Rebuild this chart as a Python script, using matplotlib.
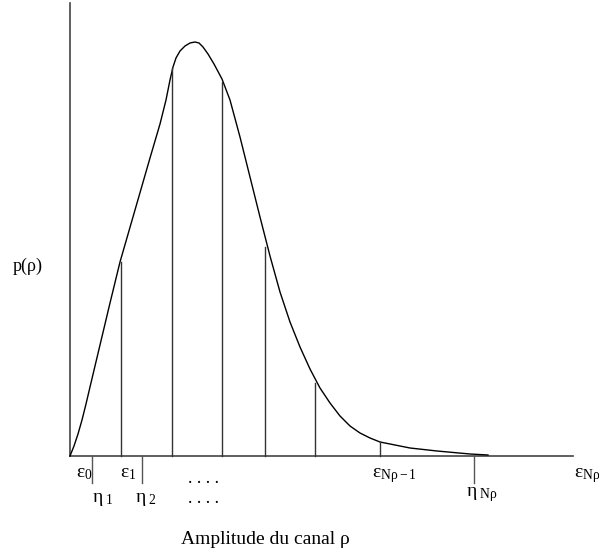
import matplotlib
matplotlib.use("Agg")
import matplotlib.pyplot as plt

plt.rcParams['font.family'] = ['Liberation Serif', 'DejaVu Serif']
plt.rcParams['mathtext.fontset'] = 'custom'
plt.rcParams['mathtext.rm'] = 'Liberation Serif'
plt.rcParams['mathtext.it'] = 'Liberation Serif'

# Schematic density curve p(rho) (amplitude, density) in arbitrary units
amp = [0, 4, 8, 12, 16, 20, 25, 30, 40, 50, 65, 80, 90, 96, 100, 103, 106, 110, 115,
       120, 125, 129, 133, 138, 144, 152, 160, 170, 180, 190, 200, 210, 220, 230, 240,
       250, 260, 270, 280, 290, 300, 310, 325, 340, 367, 400, 418]
dens = [0, 10, 22, 36, 52, 69, 90, 111, 153, 194, 246, 298, 332, 356, 376, 389, 398, 405, 410,
        413, 414, 413, 409, 402, 392, 377, 356, 319, 279, 239, 200, 164, 134, 109, 87,
        68, 53, 40, 30, 23, 18, 14, 11, 8, 5, 2, 1]

# Partition lines (quantisation boundaries) and their heights
part_pos = [51, 102, 152, 195, 245, 310]
part_h = [194, 388, 374, 209, 73, 14]

# Eta ticks below axis
eta_pos = [22, 72, 404]

fig = plt.figure(figsize=(5.99, 5.52), dpi=100)
ax = fig.add_axes([0, 0, 1, 1])
ax.set_xlim(-70, 529)
ax.set_ylim(-96, 456)
ax.axis('off')

axc = '#444444'
ax.plot([0, 0], [0, 453], color=axc, lw=1.2)
ax.plot([0, 503], [0, 0], color=axc, lw=1.2)

ax.plot(amp, dens, color='black', lw=1.0, solid_joinstyle='round')
for x, h in zip(part_pos, part_h):
    ax.plot([x, x], [0, h], color='#333333', lw=1.0)
for x in eta_pos:
    ax.plot([x, x], [0, -27], color='#555555', lw=1.0)

fs = 14
ax.text(-42, 190, 'p(ρ)', fontsize=13, ha='center', va='center')
ax.text(195, -84, 'Amplitude du canal ρ', fontsize=14, ha='center', va='center')

def lab(x, y, s):
    ax.text(x, y, s, fontsize=fs, ha='left', va='baseline')

lab(6, -21, r'$\mathrm{ε}_{\mathrm{0}}$')
lab(50, -21, r'$\mathrm{ε}_{\mathrm{1}}$')
lab(22, -46, r'$\mathrm{η}_{\ \mathrm{1}}$')
lab(65, -46, r'$\mathrm{η}_{\ \mathrm{2}}$')
lab(302, -21, r'$\mathrm{ε}_{\mathrm{Nρ-1}}$')
lab(396, -40, r'$\mathrm{η}_{\ \mathrm{Nρ}}$')
lab(504, -21, r'$\mathrm{ε}_{\mathrm{Nρ}}$')
ax.text(134, -27, '. . . .', fontsize=13, ha='center', va='baseline')
ax.text(134, -47, '. . . .', fontsize=13, ha='center', va='baseline')

fig.savefig('out.png', dpi=100)
